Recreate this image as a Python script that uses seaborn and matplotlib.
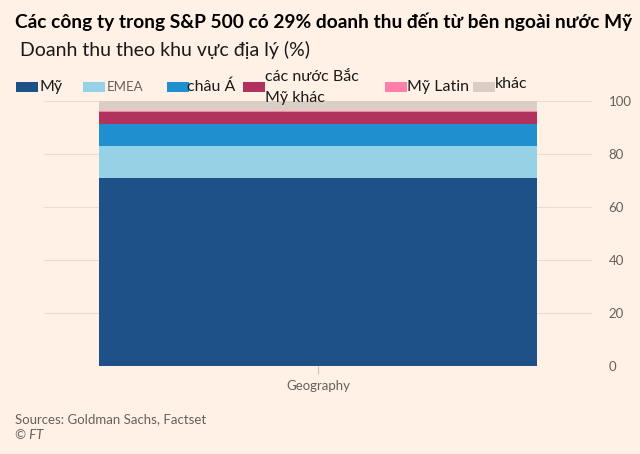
import matplotlib
matplotlib.use("Agg")
import matplotlib.pyplot as plt
from matplotlib.patches import Rectangle
import seaborn as sns
import numpy as np
import pandas as pd

categories = ["Geography"]
series_names = ["Mỹ", "EMEA", "châu Á", "các nước Bắc\nMỹ khác", "Mỹ Latin", "khác"]
series_values = [71.0, 12.0, 8.5, 4.3, 0.6, 3.6]
series_colors = ["#1f5189", "#95d2e6", "#1f8fcf", "#b2325e", "#ff7fab", "#d9cdc4"]
y_ticks = [0, 20, 40, 60, 80, 100]

BG = "#fff1e5"
sns.set_theme(style="white")
plt.rcParams["font.family"] = ["Lato", "DejaVu Sans"]

fig = plt.figure(figsize=(6.4, 4.54), dpi=100, facecolor=BG)
ax = fig.add_axes([0.069, 0.194, 0.856, 0.5835], facecolor=BG)

cum = np.cumsum(series_values)
# draw from the top cumulative down so each segment shows
for i in range(len(series_values) - 1, -1, -1):
    df = pd.DataFrame({"cat": categories, "val": [cum[i]]})
    sns.barplot(data=df, x="cat", y="val", color=series_colors[i], ax=ax,
                width=0.8, saturation=1, linewidth=0, zorder=2)

ax.set_xlim(-0.5, 0.5)
ax.set_ylim(0, 100)
ax.set_yticks(y_ticks)
ax.yaxis.tick_right()
ax.tick_params(axis="y", length=0, pad=12, labelsize=9.5, labelcolor="#66605c")
ax.tick_params(axis="x", length=6, width=0.8, color="#ccc1b7", pad=4,
               labelsize=9.5, labelcolor="#66605c", bottom=True)
ax.set_xlabel("")
ax.set_ylabel("")
ax.grid(axis="y", color="#e9dcd1", linewidth=0.8, zorder=0)
for s in ax.spines.values():
    s.set_visible(False)

fig.text(0.023, 0.952, "Các công ty trong S&P 500 có 29% doanh thu đến từ bên ngoài nước Mỹ",
         fontsize=13.8, fontweight="bold", color="#000000", va="center", ha="left")
fig.text(0.031, 0.889, "Doanh thu theo khu vực địa lý (%)",
         fontsize=14, color="#1a1a1a", va="center", ha="left")

# legend
leg_x = [0.025, 0.130, 0.261, 0.380, 0.602, 0.739]
text_x = [0.062, 0.167, 0.292, 0.414, 0.636, 0.773]
leg_y = 0.808
for i, name in enumerate(series_names):
    fig.patches.append(Rectangle((leg_x[i], leg_y - 0.011), 0.034, 0.022,
                                 transform=fig.transFigure, facecolor=series_colors[i],
                                 edgecolor="none"))
    fs = 11.5
    col = "#1a1a1a"
    ty = leg_y
    if name == "EMEA":
        fs = 9.5
        col = "#66605c"
    if name == "khác":
        ty = leg_y + 0.008
    fig.text(text_x[i], ty, name, fontsize=fs, color=col, va="center", ha="left",
             linespacing=1.65)

fig.text(0.023, 0.076, "Sources: Goldman Sachs, Factset", fontsize=9.5, color="#66605c",
         va="center", ha="left")
fig.text(0.023, 0.041, "© FT", fontsize=9.5, color="#66605c", style="italic",
         va="center", ha="left")

fig.savefig("out.png", dpi=100, facecolor=BG)
